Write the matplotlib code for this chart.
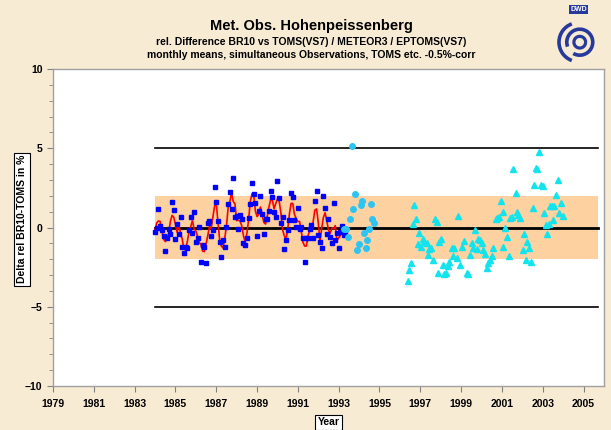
import numpy as np
import matplotlib
matplotlib.use("Agg")
import matplotlib.pyplot as plt
from matplotlib.patches import Arc, Rectangle

plt.rcParams['font.family'] = ['Liberation Sans', 'DejaVu Sans']
plt.rcParams['font.weight'] = 'bold'

# BR10 vs TOMS(VS7), monthly means from Jan 1984
br10_start = 1984.0
br10_vals = [
    -0.26, -0.05, 1.17, 0.12, -0.15, -0.54, -1.46, -0.68, -0.09, -0.41, 1.59, 1.10,
    -0.73, 0.22, -0.43, 0.68, -1.25, -1.63, -1.21, -1.31, -0.15, 0.64, -0.33, 1.00,
    -0.94, -0.68, 0.01, -2.15, -1.10, -1.21, -2.26, 0.30, 0.41, -0.54, -0.15, 2.58,
    1.59, 0.41, -0.89, -1.84, -0.79, -1.25, 0.01, 1.48, 2.26, 1.17, 3.10, 0.64,
    0.73, -0.09, 0.77, 0.52, -0.96, -1.10, -0.68, 0.58, 1.48, 2.79, 2.09, 1.57,
    -0.54, 1.04, 2.01, 0.83, -0.43, 0.56, 0.52, 1.06, 2.30, 1.92, 0.98, 0.64,
    2.93, 1.84, 0.28, 0.64, -1.38, -0.79, -0.15, 0.47, 2.16, 1.94, 0.47, 0.05,
    1.21, -0.12, 0.05, -0.68, -2.15, -0.68, -0.68, -0.12, 0.16, -0.68, 1.67, 2.30,
    -0.47, -0.89, -1.31, 1.99, 1.21, -0.41, 0.52, -0.62, -1.00, 1.53, -0.79, -0.37,
    -1.31, -0.30, 0.10, -0.50, -0.20,
]
# red running mean (3 months)
br10_smooth = [
    -0.16, 0.29, 0.41, 0.38, -0.19, -0.72, -0.89, -0.74, -0.39, 0.36, 0.76, 0.65,
    0.20, -0.31, 0.16, -0.33, -0.73, -1.36, -1.38, -0.89, -0.27, 0.05, 0.44, -0.09,
    -0.21, -0.54, -0.94, -1.08, -1.49, -1.52, -1.06, -0.52, 0.06, -0.09, 0.63, 1.34,
    1.53, 0.37, -0.77, -1.17, -1.29, -0.68, 0.08, 1.25, 1.64, 2.18, 1.64, 1.49,
    0.43, 0.47, 0.40, 0.11, -0.51, -0.91, -0.40, 0.46, 1.62, 2.12, 2.15, 1.04,
    0.69, 0.84, 1.29, 0.80, 0.32, 0.22, 0.71, 1.29, 1.76, 1.73, 1.18, 1.52,
    1.80, 1.68, 0.92, -0.15, -0.51, -0.77, -0.16, 0.83, 1.52, 1.52, 0.82, 0.58,
    0.38, 0.38, -0.25, -0.93, -1.17, -1.17, -0.49, -0.21, -0.21, 0.38, 1.10, 1.17,
    0.31, -0.89, -0.07, 0.63, 0.93, 0.44, -0.17, -0.37, -0.03, -0.09, 0.12, -0.82,
    -0.66, -0.50, -0.23, -0.20, -0.35,
]

# METEOR3
met3_year = [1993.26, 1993.35, 1993.48, 1993.56, 1993.64, 1993.72, 1993.80, 1993.92, 1994.00,
             1994.08, 1994.16, 1994.25, 1994.33, 1994.41, 1994.49, 1994.57, 1994.65, 1994.74]
met3_vals = [-0.10, -0.12, -0.62, 0.52, 5.14, 1.17, 2.11, -1.44, -1.06,
             1.42, 1.67, -0.33, -1.27, -0.79, -0.07, 1.48, 0.52, 0.26]

# EPTOMS(VS7)
ep_year = [
    1996.39, 1996.47, 1996.55, 1996.63, 1996.71, 1996.79, 1996.91, 1996.96, 1997.04, 1997.12,
    1997.20, 1997.32, 1997.37, 1997.43, 1997.51, 1997.61, 1997.73, 1997.81, 1997.86, 1997.94,
    1998.02, 1998.10, 1998.18, 1998.26, 1998.35, 1998.43, 1998.54, 1998.62, 1998.66, 1998.79,
    1998.87, 1998.95, 1999.03, 1999.16, 1999.28, 1999.36, 1999.44, 1999.52, 1999.60, 1999.69,
    1999.77, 1999.85, 1999.93, 2000.01, 2000.09, 2000.18, 2000.26, 2000.34, 2000.42, 2000.50,
    2000.58, 2000.70, 2000.78, 2000.86, 2000.94, 2001.03, 2001.07, 2001.16, 2001.24, 2001.35,
    2001.40, 2001.48, 2001.56, 2001.68, 2001.73, 2001.81, 2001.89, 2002.01, 2002.09, 2002.17,
    2002.25, 2002.33, 2002.41, 2002.50, 2002.58, 2002.66, 2002.71, 2002.84, 2002.90, 2002.99,
    2003.07, 2003.15, 2003.23, 2003.31, 2003.36, 2003.44, 2003.49, 2003.56, 2003.64, 2003.74,
    2003.80, 2003.88, 2003.97,
]
ep_vals = [
    -3.36, -2.68, -2.22, 0.22, 1.42, 0.52, -1.06, -0.37, -1.21, -0.75,
    -0.89, -1.00, -1.74, -1.38, -1.32, -2.05, 0.52, 0.37, -2.85, -0.89,
    -0.73, -2.37, -2.93, -2.89, -2.43, -2.16, -1.27, -1.80, -1.32, -1.90,
    0.73, -2.37, -1.25, -0.85, -2.85, -2.96, -1.74, -1.00, -1.32, -0.16,
    -1.38, -0.75, -0.79, -0.96, -1.42, -1.67, -2.53, -2.26, -2.05, -1.80,
    -1.32, 0.52, 0.58, 0.64, 1.69, 1.00, -1.25, -0.05, -0.62, -1.78,
    0.58, 0.64, 3.67, 2.20, 1.00, 0.79, 0.58, -1.42, -0.43, -2.05,
    -0.94, -1.32, -2.20, 1.25, 2.68, 3.77, 3.67, 4.78, 2.68, 2.62,
    0.89, 0.16, -0.41, 0.20, 1.38, 1.36, 0.47, 1.36, 2.05, 3.00,
    0.89, 1.57, 0.75,
]

# reference band / lines
band_x = (1984.0, 2005.7)
band_lim = 2
ref_lines = [-5, 0, 5]

br10_year = br10_start + np.arange(len(br10_vals)) / 12.0

fig = plt.figure(figsize=(6.11, 4.30), dpi=100)
fig.patch.set_facecolor('#f7ebd4')
ax = fig.add_axes([0.0867, 0.1023, 0.9018, 0.7372])
ax.set_facecolor('white')

ax.add_patch(Rectangle((band_x[0], -band_lim), band_x[1] - band_x[0], 2 * band_lim,
                       facecolor='#fdd1a0', edgecolor='none', zorder=1))
for yv in ref_lines:
    ax.plot(band_x, [yv, yv], color='black', lw=2.0 if yv == 0 else 1.2, zorder=2)

ax.plot(br10_year, br10_smooth, color='#ff0000', lw=1.2, zorder=3)
ax.plot(br10_year, br10_vals, ls='none', marker='s', ms=3.3, color='#0000ff', zorder=4)
ax.plot(met3_year, met3_vals, ls='none', marker='o', ms=4.0, color='#2ec4f2', zorder=4)
ax.plot(ep_year, ep_vals, ls='none', marker='^', ms=4.8, color='#12e4ee', zorder=4)

ax.set_xlim(1979, 2006)
ax.set_ylim(-10, 10)
ax.set_xticks(np.arange(1979, 2006, 2))
ax.set_yticks([-10, -5, 0, 5, 10])
ax.set_yticks(np.arange(-10, 11, 1), minor=True)
ax.tick_params(axis='both', labelsize=7.5, colors='#808080', labelcolor='black', length=4)
ax.tick_params(axis='y', which='minor', length=3, colors='#808080')
ax.tick_params(axis='x', pad=5)
for lab in ax.get_xticklabels() + ax.get_yticklabels():
    lab.set_fontweight('bold')
for sp in ax.spines.values():
    sp.set_color('#a0a0a0')
    sp.set_linewidth(1.0)

fig.text(0.509, 0.940, 'Met. Obs. Hohenpeissenberg', ha='center', va='center',
         fontsize=10.5, fontweight='bold')
fig.text(0.509, 0.903, 'rel. Difference BR10 vs TOMS(VS7) / METEOR3 / EPTOMS(VS7)',
         ha='center', va='center', fontsize=7.5, fontweight='bold')
fig.text(0.509, 0.871, 'monthly means, simultaneous Observations, TOMS etc. -0.5%-corr',
         ha='center', va='center', fontsize=7.5, fontweight='bold')

box = dict(boxstyle='square,pad=0.25', facecolor='white', edgecolor='black', lw=0.8)
fig.text(0.036, 0.49, 'Delta rel BR10-TOMS in %', rotation=90, ha='center', va='center',
         fontsize=7.5, fontweight='bold', bbox=box)
fig.text(0.538, 0.018, 'Year', ha='center', va='center', fontsize=7.5,
         fontweight='bold', bbox=box)

# DWD logo
lax = fig.add_axes([0.900, 0.850, 0.085, 0.140])
lax.set_xlim(-1, 1)
lax.set_ylim(-1.3, 1.1)
lax.set_aspect('equal', adjustable='datalim')
lax.axis('off')
logo_c = '#27399a'
lax.text(0.1, 0.85, 'DWD', ha='center', va='center', fontsize=5, color='white',
         fontweight='bold', bbox=dict(boxstyle='square,pad=0.15', facecolor=logo_c,
                                      edgecolor='none'))
lax.add_patch(Arc((0.1, -0.4), 1.5, 1.5, theta1=110, theta2=250, color=logo_c, lw=2.6))
lax.add_patch(Arc((0.15, -0.4), 1.0, 1.0, theta1=-120, theta2=200, color=logo_c, lw=2.6))
lax.add_patch(Arc((0.15, -0.4), 0.45, 0.45, theta1=0, theta2=360, color=logo_c, lw=2.3))

fig.savefig('out.png', dpi=100, facecolor=fig.get_facecolor())
